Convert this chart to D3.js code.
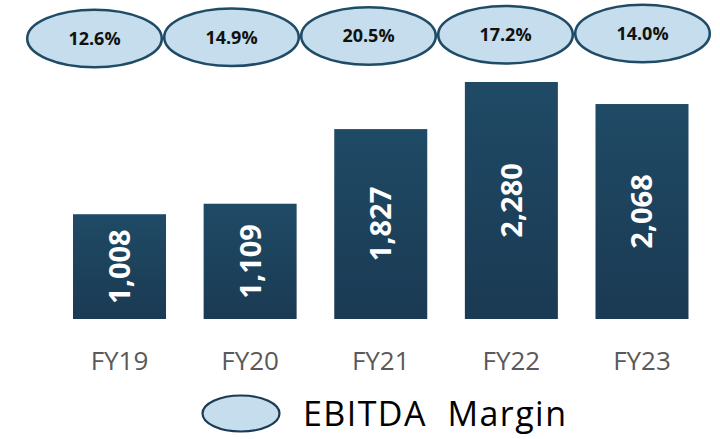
<!DOCTYPE html>
<html>
<head>
<meta charset="utf-8">
<script src="https://cdn.jsdelivr.net/npm/d3@7"></script>
<style>
  body { margin: 0; background: #fff; }
  svg { display: block; }
</style>
</head>
<body>
<div id="chart"></div>
<script>
const years = ['FY19', 'FY20', 'FY21', 'FY22', 'FY23'];
const ebitda = [1008, 1109, 1827, 2280, 2068];
const margins = [12.6, 14.9, 20.5, 17.2, 14.0];
const legendLabel = 'EBITDA  Margin';

const width = 720;
const height = 439;
const font = '"Open Sans", "Liberation Sans", sans-serif';

const svg = d3.select('#chart')
    .append('svg')
    .attr('width', width)
    .attr('height', height);

const grad = svg.append('defs')
    .append('linearGradient')
    .attr('id', 'barFill')
    .attr('x1', 0).attr('y1', 0)
    .attr('x2', 0).attr('y2', 1);
grad.append('stop').attr('offset', '0%').attr('stop-color', '#1f4a65');
grad.append('stop').attr('offset', '100%').attr('stop-color', '#1b3a53');

// bars
const x = d3.scaleBand()
    .domain(years)
    .range([54.2, 707.3])
    .paddingInner(0.288)
    .paddingOuter(0.144);

const y = d3.scaleLinear()
    .domain([0, 2280])
    .range([319, 82]);

svg.append('g')
    .selectAll('rect')
    .data(ebitda)
    .join('rect')
      .attr('x', (d, i) => x(years[i]))
      .attr('y', d => y(d))
      .attr('width', x.bandwidth())
      .attr('height', d => y(0) - y(d))
      .attr('fill', 'url(#barFill)');

svg.append('g')
    .selectAll('text')
    .data(ebitda)
    .join('text')
      .attr('transform', (d, i) => {
          const cx = x(years[i]) + x.bandwidth() / 2;
          const cy = (y(d) + y(0)) / 2;
          return `translate(${cx},${cy}) rotate(-90)`;
      })
      .attr('text-anchor', 'middle')
      .attr('dy', '0.36em')
      .attr('fill', '#fff')
      .attr('font-family', font)
      .attr('font-weight', 700)
      .attr('font-size', '29px')
      .text(d => d3.format(',')(d));

// x axis labels
const xAxis = g => g
    .attr('transform', `translate(0,${y(0)})`)
    .call(d3.axisBottom(x).tickSize(0).tickPadding(51))
    .call(g => g.select('.domain').remove())
    .call(g => g.selectAll('text')
        .attr('dy', 0)
        .attr('fill', '#595959')
        .attr('font-family', font)
        .attr('font-size', '26px'));
svg.append('g').call(xAxis);

// margin ellipses
const mx = d3.scaleBand()
    .domain(years)
    .range([26, 711]);
const my = d3.scaleLinear()
    .domain([0, years.length - 1])
    .range([38.5, 33.5]);

const bubbles = svg.append('g')
    .selectAll('g')
    .data(margins)
    .join('g')
      .attr('transform', (d, i) => `translate(${mx(years[i]) + mx.bandwidth() / 2},${my(i)})`);

bubbles.append('ellipse')
    .attr('rx', mx.bandwidth() / 2 - 1.2)
    .attr('ry', 28.8)
    .attr('fill', '#c5ddec')
    .attr('stroke', '#1f4b66')
    .attr('stroke-width', 2.6);

bubbles.append('text')
    .attr('text-anchor', 'middle')
    .attr('dy', '0.36em')
    .attr('fill', '#111')
    .attr('font-family', font)
    .attr('font-weight', 700)
    .attr('font-size', '18px')
    .text(d => d.toFixed(1) + '%');

// legend
const legend = svg.append('g')
    .attr('transform', 'translate(241,413.5)');
legend.append('ellipse')
    .attr('rx', 38.5)
    .attr('ry', 18)
    .attr('fill', '#c5ddec')
    .attr('stroke', '#1b3a53')
    .attr('stroke-width', 2.2);
legend.append('text')
    .attr('x', 62)
    .attr('dy', '0.36em')
    .attr('fill', '#000')
    .attr('font-family', font)
    .attr('font-size', '34px')
    .attr('textLength', 263)
    .attr('lengthAdjust', 'spacing')
    .style('white-space', 'pre')
    .text(legendLabel);
</script>
</body>
</html>
